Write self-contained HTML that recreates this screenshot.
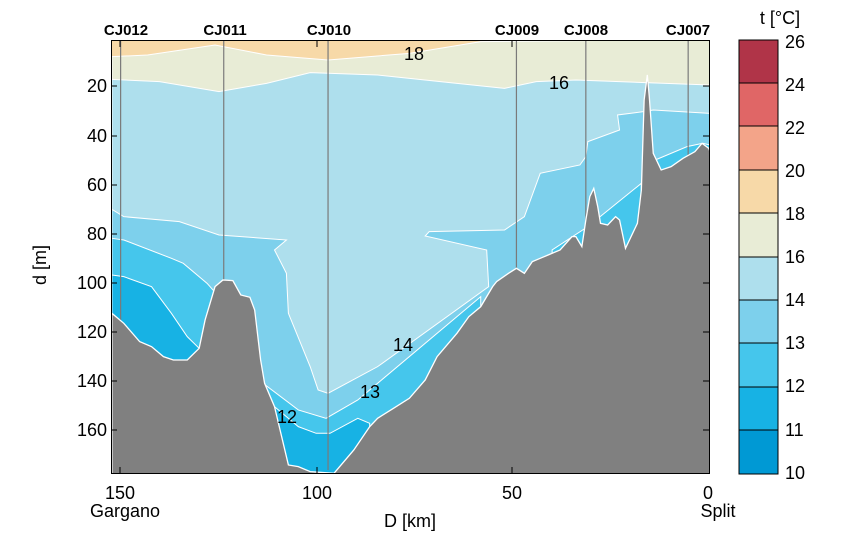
<!DOCTYPE html>
<html><head><meta charset="utf-8"><style>
html,body{margin:0;padding:0;background:#fff;}
svg{display:block;font-family:"Liberation Sans",Arial,sans-serif;}
</style></head><body>
<svg width="860" height="533" viewBox="0 0 860 533" xmlns="http://www.w3.org/2000/svg">
<defs><clipPath id="c"><rect x="30" y="60" width="1508" height="1302"/></clipPath></defs>
<g transform="translate(100,20) scale(0.3966,0.3333)" clip-path="url(#c)">
<rect x="30" y="40" width="1508" height="1330" fill="#f7d9a8"/>
<path d="M30,110 L120,105 L290,75 L420,105 L575,120 L780,100 L960,65 L1538,58 L1538,1362 L30,1362 Z" fill="#e8ecd6" stroke="#fff" stroke-width="1" vector-effect="non-scaling-stroke"/>
<path d="M30,178 L150,185 L300,215 L420,190 L530,158 L700,165 L900,190 L1020,205 L1100,185 L1200,180 L1538,195 L1538,1362 L30,1362 Z" fill="#aedfed" stroke="#fff" stroke-width="1" vector-effect="non-scaling-stroke"/>
<path d="M30,568 L60,590 L200,605 L300,645 L470,660 L440,690 L470,760 L475,880 L530,1040 L550,1110 L575,1120 L700,1040 L980,800 L975,690 L820,648 L830,635 L1020,630 L1070,590 L1110,460 L1210,435 L1225,410 L1230,365 L1310,330 L1305,285 L1370,275 L1395,270 L1538,280 L1538,1362 L30,1362 Z" fill="#7dd0ec" stroke="#fff" stroke-width="1" vector-effect="non-scaling-stroke"/>
<g fill="#45c6ec" stroke="#fff" stroke-width="1">
<path d="M30,655 L60,660 L180,715 L210,730 L270,790 L300,830 L300,1362 L30,1362 Z" vector-effect="non-scaling-stroke"/>
<path d="M400,1080 L500,1170 L570,1195 L650,1140 L900,890 L960,830 L960,1362 L400,1362 Z" vector-effect="non-scaling-stroke"/>
<path d="M1140,690 L1230,620 L1365,490 L1365,800 L1140,800 Z" vector-effect="non-scaling-stroke"/>
<path d="M1400,420 L1480,380 L1520,370 L1538,375 L1538,700 L1400,700 Z" vector-effect="non-scaling-stroke"/>
</g>
<g fill="#17b2e4" stroke="#fff" stroke-width="1">
<path d="M30,765 L60,770 L130,800 L180,880 L220,950 L250,985 L250,1362 L30,1362 Z" vector-effect="non-scaling-stroke"/>
<path d="M420,1140 L500,1220 L545,1240 L580,1240 L650,1195 L680,1210 L680,1362 L420,1362 Z" vector-effect="non-scaling-stroke"/>
</g>
<g stroke="#7a7a7a" stroke-width="1.2">
<line x1="52" y1="60" x2="52" y2="900" vector-effect="non-scaling-stroke"/>
<line x1="312" y1="60" x2="312" y2="785" vector-effect="non-scaling-stroke"/>
<line x1="575" y1="60" x2="575" y2="1350" vector-effect="non-scaling-stroke"/>
<line x1="1050" y1="60" x2="1050" y2="750" vector-effect="non-scaling-stroke"/>
<line x1="1225" y1="60" x2="1225" y2="620" vector-effect="non-scaling-stroke"/>
<line x1="1483" y1="60" x2="1483" y2="410" vector-effect="non-scaling-stroke"/>
</g>
<path d="M30,880 L60,910 L100,965 L130,980 L160,1010 L185,1020 L220,1020 L250,985 L265,900 L290,800 L310,780 L335,782 L355,825 L378,832 L390,870 L405,1020 L415,1090 L440,1160 L460,1260 L475,1335 L500,1340 L530,1355 L590,1360 L640,1290 L680,1220 L700,1195 L740,1165 L780,1135 L820,1080 L850,1010 L900,940 L930,890 L960,860 L990,800 L1000,785 L1030,760 L1050,745 L1070,760 L1090,725 L1110,715 L1130,705 L1160,690 L1190,650 L1200,650 L1215,680 L1225,600 L1235,530 L1245,505 L1255,560 L1262,610 L1280,615 L1300,590 L1310,600 L1325,685 L1355,610 L1365,510 L1372,240 L1380,165 L1385,230 L1395,400 L1415,450 L1440,440 L1470,415 L1500,395 L1518,370 L1535,385 L1538,395 L1538,1370 L30,1370 Z" fill="#808080" stroke="#fff" stroke-width="1.3" vector-effect="non-scaling-stroke"/>
</g>
<rect x="111.5" y="40.5" width="598" height="433" fill="none" stroke="#000" stroke-width="1"/>
<g stroke="#000" stroke-width="1">
<line x1="111" y1="86" x2="117" y2="86"/><line x1="111" y1="136" x2="117" y2="136"/><line x1="111" y1="185" x2="117" y2="185"/><line x1="111" y1="234" x2="117" y2="234"/><line x1="111" y1="283" x2="117" y2="283"/><line x1="111" y1="332" x2="117" y2="332"/><line x1="111" y1="381" x2="117" y2="381"/><line x1="111" y1="430" x2="117" y2="430"/>
<line x1="709" y1="86" x2="703" y2="86"/><line x1="709" y1="136" x2="703" y2="136"/><line x1="709" y1="185" x2="703" y2="185"/><line x1="709" y1="234" x2="703" y2="234"/><line x1="709" y1="283" x2="703" y2="283"/><line x1="709" y1="332" x2="703" y2="332"/><line x1="709" y1="381" x2="703" y2="381"/><line x1="709" y1="430" x2="703" y2="430"/>
<line x1="120" y1="473" x2="120" y2="467"/><line x1="317" y1="473" x2="317" y2="467"/><line x1="512" y1="473" x2="512" y2="467"/>
<line x1="120" y1="41" x2="120" y2="47"/><line x1="317" y1="41" x2="317" y2="47"/><line x1="512" y1="41" x2="512" y2="47"/>
</g>
<g font-size="18" text-anchor="end" fill="#000">
<text x="107" y="92">20</text><text x="107" y="142">40</text><text x="107" y="191">60</text><text x="107" y="240">80</text><text x="107" y="289">100</text><text x="107" y="338">120</text><text x="107" y="387">140</text><text x="107" y="436">160</text>
</g>
<g font-size="18" text-anchor="middle">
<text x="120" y="499">150</text><text x="317" y="499">100</text><text x="512" y="499">50</text><text x="708" y="499">0</text>
<text x="125" y="517">Gargano</text><text x="718" y="517">Split</text>
<text x="410" y="527">D [km]</text>
<text transform="translate(46,265) rotate(-90)">d [m]</text>
<text x="414" y="60">18</text><text x="559" y="89">16</text><text x="403" y="351">14</text><text x="370" y="398">13</text><text x="287" y="423">12</text>
</g>
<g font-size="15" font-weight="bold" text-anchor="middle">
<text x="126" y="35">CJ012</text><text x="225" y="35">CJ011</text><text x="329" y="35">CJ010</text><text x="517" y="35">CJ009</text><text x="586" y="35">CJ008</text><text x="688" y="35">CJ007</text>
</g>
<g stroke="#000" stroke-width="1">
<rect x="739" y="40" width="39" height="43" fill="#b03448"/>
<rect x="739" y="83" width="39" height="43" fill="#e06666"/>
<rect x="739" y="126" width="39" height="44" fill="#f3a489"/>
<rect x="739" y="170" width="39" height="43" fill="#f7d9a8"/>
<rect x="739" y="213" width="39" height="44" fill="#e8ecd6"/>
<rect x="739" y="257" width="39" height="43" fill="#aedfed"/>
<rect x="739" y="300" width="39" height="43" fill="#7dd0ec"/>
<rect x="739" y="343" width="39" height="44" fill="#45c6ec"/>
<rect x="739" y="387" width="39" height="43" fill="#17b2e4"/>
<rect x="739" y="430" width="39" height="44" fill="#0099d4"/>
</g>
<g font-size="18">
<text x="785" y="48">26</text><text x="785" y="91">24</text><text x="785" y="134">22</text><text x="785" y="177">20</text><text x="785" y="220">18</text><text x="785" y="263">16</text><text x="785" y="306">14</text><text x="785" y="349">13</text><text x="785" y="392">12</text><text x="785" y="436">11</text><text x="785" y="479">10</text>
<text x="780" y="24" text-anchor="middle">t [°C]</text>
</g>
</svg>
</body></html>
